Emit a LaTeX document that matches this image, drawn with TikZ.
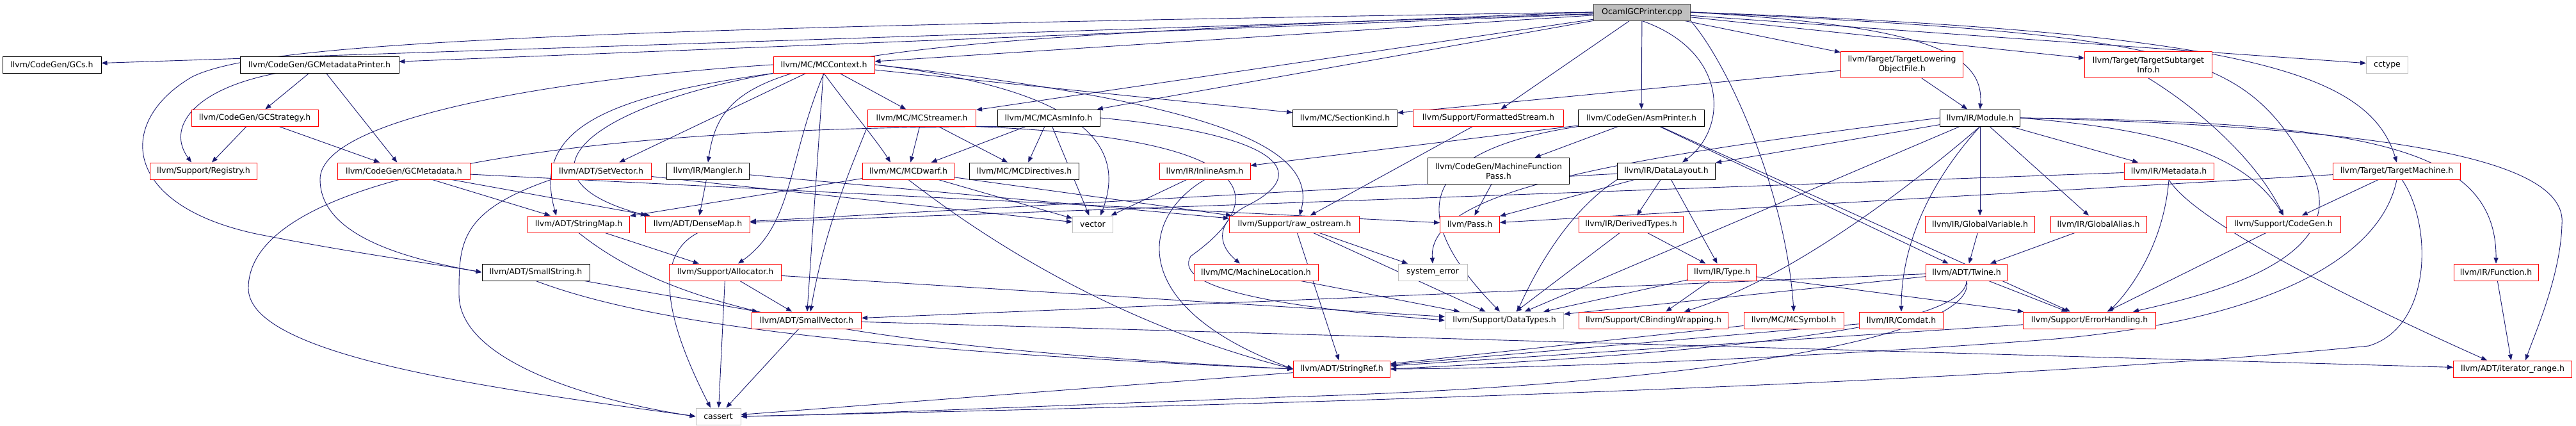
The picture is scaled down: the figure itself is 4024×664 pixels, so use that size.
\documentclass[tikz,border=0pt]{standalone}
\usepackage{fontspec}
\newfontfamily\dejavu{DejaVu Sans}
\usetikzlibrary{arrows.meta,backgrounds}
\definecolor{edgeblue}{HTML}{191970}
\definecolor{boxgray}{HTML}{BFBFBF}
\begin{document}
\begin{tikzpicture}[x=1pt,y=-1pt,
	hdr/.style={draw=black,fill=white,line width=1pt,inner sep=0pt,minimum height=26pt,align=center,font=\dejavu\fontsize{12.5}{15}\selectfont},
	redhdr/.style={hdr,draw=red},
	syshdr/.style={hdr,draw=boxgray},
	roothdr/.style={hdr,draw=black!75,fill=boxgray},
	inc/.style={draw=edgeblue,line width=0.9pt,-{Triangle[length=9pt,width=7pt]}}]
	\useasboundingbox (0,0) rectangle (4024,664);
	%draw headers
	\node[roothdr,minimum width=151pt] (r) at (2565,19) {OcamlGCPrinter.cpp};
	\node[hdr,minimum width=154pt] (gcs) at (81,101) {llvm/CodeGen/GCs.h};
	\node[hdr,minimum width=248pt] (gcmp) at (499,101) {llvm/CodeGen/GCMetadataPrinter.h};
	\node[redhdr,minimum width=158pt] (mcctx) at (1287,101) {llvm/MC/MCContext.h};
	\node[redhdr,minimum width=191pt,minimum height=41pt] (tlof) at (2971,101) {llvm/Target/TargetLowering\\ObjectFile.h};
	\node[redhdr,minimum width=199pt,minimum height=41pt] (tsi) at (3356,101) {llvm/Target/TargetSubtarget\\Info.h};
	\node[syshdr,minimum width=65pt] (cctype) at (3729,101) {cctype};
	\node[redhdr,minimum width=198pt] (gcstrat) at (398,184) {llvm/CodeGen/GCStrategy.h};
	\node[redhdr,minimum width=169pt] (mcstr) at (1440,184) {llvm/MC/MCStreamer.h};
	\node[hdr,minimum width=160pt] (mcai) at (1638,184) {llvm/MC/MCAsmInfo.h};
	\node[hdr,minimum width=163pt] (seckind) at (2101,184) {llvm/MC/SectionKind.h};
	\node[redhdr,minimum width=235pt] (fstream) at (2325,184) {llvm/Support/FormattedStream.h};
	\node[hdr,minimum width=197pt] (asmp) at (2564,184) {llvm/CodeGen/AsmPrinter.h};
	\node[hdr,minimum width=125pt] (module) at (3093,184) {llvm/IR/Module.h};
	\node[redhdr,minimum width=167pt] (registry) at (318,267) {llvm/Support/Registry.h};
	\node[redhdr,minimum width=207pt] (gcmeta) at (631,267) {llvm/CodeGen/GCMetadata.h};
	\node[redhdr,minimum width=156pt] (setvec) at (939,267) {llvm/ADT/SetVector.h};
	\node[hdr,minimum width=129pt] (mangler) at (1106,267) {llvm/IR/Mangler.h};
	\node[redhdr,minimum width=143pt] (mcdwarf) at (1419,267) {llvm/MC/MCDwarf.h};
	\node[hdr,minimum width=171pt] (mcdir) at (1600,267) {llvm/MC/MCDirectives.h};
	\node[redhdr,minimum width=142pt] (inlasm) at (1882,267) {llvm/IR/InlineAsm.h};
	\node[hdr,minimum width=221pt,minimum height=41pt] (mfp) at (2341,267) {llvm/CodeGen/MachineFunction\\Pass.h};
	\node[hdr,minimum width=153pt] (dl) at (2603,267) {llvm/IR/DataLayout.h};
	\node[redhdr,minimum width=140pt] (metadata) at (3388,267) {llvm/IR/Metadata.h};
	\node[redhdr,minimum width=199pt] (tm) at (3744,267) {llvm/Target/TargetMachine.h};
	\node[redhdr,minimum width=159pt] (strmap) at (904,350) {llvm/ADT/StringMap.h};
	\node[redhdr,minimum width=163pt] (densemap) at (1090,350) {llvm/ADT/DenseMap.h};
	\node[syshdr,minimum width=63pt] (vector) at (1707,350) {vector};
	\node[redhdr,minimum width=203pt] (rawos) at (2022,350) {llvm/Support/raw\_ostream.h};
	\node[redhdr,minimum width=93pt] (pass) at (2296,350) {llvm/Pass.h};
	\node[redhdr,minimum width=163pt] (dertypes) at (2548,350) {llvm/IR/DerivedTypes.h};
	\node[redhdr,minimum width=171pt] (globvar) at (3093,350) {llvm/IR/GlobalVariable.h};
	\node[redhdr,minimum width=150pt] (globalias) at (3278,350) {llvm/IR/GlobalAlias.h};
	\node[redhdr,minimum width=178pt] (cgen) at (3567,350) {llvm/Support/CodeGen.h};
	\node[hdr,minimum width=168pt] (smallstr) at (837,425) {llvm/ADT/SmallString.h};
	\node[redhdr,minimum width=175pt] (alloc) at (1133,425) {llvm/Support/Allocator.h};
	\node[redhdr,minimum width=194pt] (machloc) at (1962,425) {llvm/MC/MachineLocation.h};
	\node[syshdr,minimum width=108pt] (syserr) at (2238,425) {system\_error};
	\node[redhdr,minimum width=107pt] (type) at (2690,425) {llvm/IR/Type.h};
	\node[redhdr,minimum width=127pt] (twine) at (3072,425) {llvm/ADT/Twine.h};
	\node[redhdr,minimum width=132pt] (func) at (3899,425) {llvm/IR/Function.h};
	\node[redhdr,minimum width=171pt] (smallvec) at (1260,500) {llvm/ADT/SmallVector.h};
	\node[syshdr,minimum width=185pt] (datatypes) at (2350,500) {llvm/Support/DataTypes.h};
	\node[redhdr,minimum width=233pt] (cbw) at (2583,500) {llvm/Support/CBindingWrapping.h};
	\node[redhdr,minimum width=156pt] (mcsym) at (2802,500) {llvm/MC/MCSymbol.h};
	\node[redhdr,minimum width=131pt] (comdat) at (2970,500) {llvm/IR/Comdat.h};
	\node[redhdr,minimum width=207pt] (errh) at (3264,500) {llvm/Support/ErrorHandling.h};
	\node[redhdr,minimum width=151pt] (strref) at (2096,576) {llvm/ADT/StringRef.h};
	\node[redhdr,minimum width=185pt] (itrange) at (3925,576) {llvm/ADT/iterator\_range.h};
	\node[syshdr,minimum width=70pt] (cassert) at (1122,650) {cassert};
	%draw includes
	\begin{scope}[on background layer]
	\foreach \src/\dst in {r/gcs, r/gcmp, r/mcctx, r/mcstr, r/mcai, r/fstream, r/asmp, r/tlof, r/tsi, r/cctype,
		gcmp/gcstrat, gcmp/gcmeta, gcstrat/registry, gcstrat/gcmeta,
		gcmeta/strmap, gcmeta/densemap, gcmeta/pass,
		mcctx/setvec, mcctx/smallvec, mcctx/mcstr, mcctx/seckind,
		tlof/seckind, tlof/module,
		mcstr/mcdwarf, mcstr/mcdir, mcai/mcdwarf, mcai/mcdir, mcai/vector,
		setvec/vector, mangler/densemap, mangler/rawos,
		mcdwarf/strmap, mcdwarf/vector, mcdwarf/rawos, inlasm/vector,
		fstream/rawos, asmp/mfp, asmp/inlasm, asmp/twine, asmp/errh, mfp/pass,
		dl/pass, dl/dertypes, dl/type, dl/densemap,
		module/dl, module/datatypes, module/globvar, module/globalias, module/metadata,
		metadata/densemap, tm/pass, tm/cgen, strmap/alloc,
		rawos/syserr, rawos/datatypes, rawos/strref,
		dertypes/datatypes, dertypes/type, globvar/twine, globalias/twine, cgen/errh,
		smallstr/smallvec, alloc/smallvec, alloc/cassert, alloc/datatypes, machloc/datatypes,
		type/cbw, type/errh, type/datatypes,
		twine/smallvec, twine/datatypes, twine/errh,
		func/itrange, smallvec/cassert, smallvec/itrange,
		mcsym/strref, comdat/strref, errh/strref, strref/cassert}
		\draw[inc] (\src) -- (\dst);
	%draw routed includes
	\draw[inc] (r.west) .. controls (800,45) and (400,70) .. (300,120) .. controls (180,190) and (190,320) .. (400,365) .. controls (550,395) and (680,412) .. (smallstr.west);
	\draw[inc] (r.west) .. controls (1250,65) and (1130,90) .. (mangler.north);
	\draw[inc] (r.south) .. controls (2700,80) and (2700,200) .. ([xshift=25pt]dl.north);
	\draw[inc] (r.south east) .. controls (2700,100) and (2790,300) .. (mcsym.north);
	\draw[inc] (r.east) .. controls (3000,40) and (3100,80) .. (module.north);
	\draw[inc] (r.east) .. controls (3500,50) and (3700,110) .. (tm.north);
	\draw[inc] (r.east) .. controls (3400,55) and (3500,80) .. (3600,250) .. controls (3700,400) and (3450,460) .. ([xshift=68pt]errh.north);
	\draw[inc] ([xshift=-68pt]gcmp.south) .. controls (300,140) and (260,200) .. ([xshift=-19pt]registry.north);
	\draw[inc] (mcctx.west) .. controls (900,120) and (500,180) .. (500,280) .. controls (500,370) and (640,405) .. (smallstr.west);
	\draw[inc] (mcctx.south west) .. controls (950,150) and (830,200) .. ([xshift=-35pt]strmap.north);
	\draw[inc] (mcctx.south west) .. controls (900,170) and (800,280) .. ([xshift=-80pt]densemap.north);
	\draw[inc] (mcctx.south) .. controls (1230,250) and (1240,350) .. ([xshift=20pt]alloc.north);
	\draw[inc] (mcctx.south) .. controls (1320,160) and (1370,220) .. ([xshift=-28pt]mcdwarf.north);
	\draw[inc] (mcctx.east) .. controls (1700,140) and (1760,230) .. ([xshift=12pt]vector.north);
	\draw[inc] (mcctx.east) .. controls (1900,160) and (2060,230) .. ([xshift=8pt]rawos.north);
	\draw[inc] (mcstr.south west) .. controls (1330,260) and (1290,350) .. ([xshift=6pt]smallvec.north);
	\draw[inc] (mcstr.south east) .. controls (1950,215) and (2000,300) .. (1860,400) .. controls (1830,450) and (2000,480) .. (datatypes.west);
	\draw[inc] (mcai.south west) .. controls (800,200) and (388,290) .. (388,450) .. controls (388,560) and (800,610) .. (cassert.west);
	\draw[inc] (mcai.east) .. controls (2000,210) and (2050,270) .. (1950,320) .. controls (1900,345) and (1900,380) .. ([xshift=-25pt]machloc.north);
	\draw[inc] (setvec.south west) .. controls (717,330) and (717,380) .. (717,460) .. controls (717,570) and (950,630) .. (cassert.west);
	\draw[inc] (densemap.south) .. controls (1020,400) and (1040,500) .. ([xshift=-12pt]cassert.north);
	\draw[inc] (mcdwarf.south) .. controls (1600,420) and (1800,520) .. (strref.west);
	\draw[inc] (inlasm.south) .. controls (1780,340) and (1760,480) .. (strref.west);
	\draw[inc] (asmp.south west) .. controls (2220,235) and (2190,330) .. ([xshift=-7pt]datatypes.north);
	\draw[inc] (dl.south west) .. controls (2450,330) and (2400,420) .. ([xshift=20pt]datatypes.north);
	\draw[inc] (module.west) .. controls (2500,250) and (2230,300) .. (syserr.north);
	\draw[inc] (module.south) .. controls (2950,320) and (2780,440) .. ([xshift=48pt]cbw.north);
	\draw[inc] (module.south) .. controls (3000,300) and (2970,400) .. (comdat.north);
	\draw[inc] (module.east) .. controls (3350,200) and (3500,230) .. (cgen.north);
	\draw[inc] (module.east) .. controls (3700,190) and (3900,230) .. (func.north);
	\draw[inc] (module.east) .. controls (3800,200) and (4010,260) .. (4002,350) .. controls (4000,430) and (3960,520) .. ([xshift=20pt]itrange.north);
	\draw[inc] (tsi.south) .. controls (3450,180) and (3530,260) .. (cgen.north);
	\draw[inc] (tm.south) .. controls (3720,400) and (3550,500) .. (3200,530) .. controls (2800,560) and (2400,575) .. (strref.east);
	\draw[inc] ([xshift=8pt]tm.south) .. controls (3800,350) and (3800,510) .. (3700,540) .. controls (3000,610) and (1600,640) .. (cassert.east);
	\draw[inc] (metadata.south) .. controls (3380,380) and (3330,450) .. ([xshift=30pt]errh.north);
	\draw[inc] (metadata.south) .. controls (3430,350) and (3700,480) .. ([xshift=-40pt]itrange.north);
	\draw[inc] (strmap.south) .. controls (1050,480) and (1300,540) .. (strref.west);
	\draw[inc] (smallstr.south) .. controls (1000,500) and (1300,545) .. (strref.west);
	\draw[inc] (twine.south) .. controls (3070,500) and (2800,545) .. (strref.east);
	\draw[inc] (twine.south) .. controls (3090,520) and (2700,600) .. (2000,620) .. controls (1600,635) and (1300,648) .. (cassert.east);
	\end{scope}
\end{tikzpicture}
\end{document}
